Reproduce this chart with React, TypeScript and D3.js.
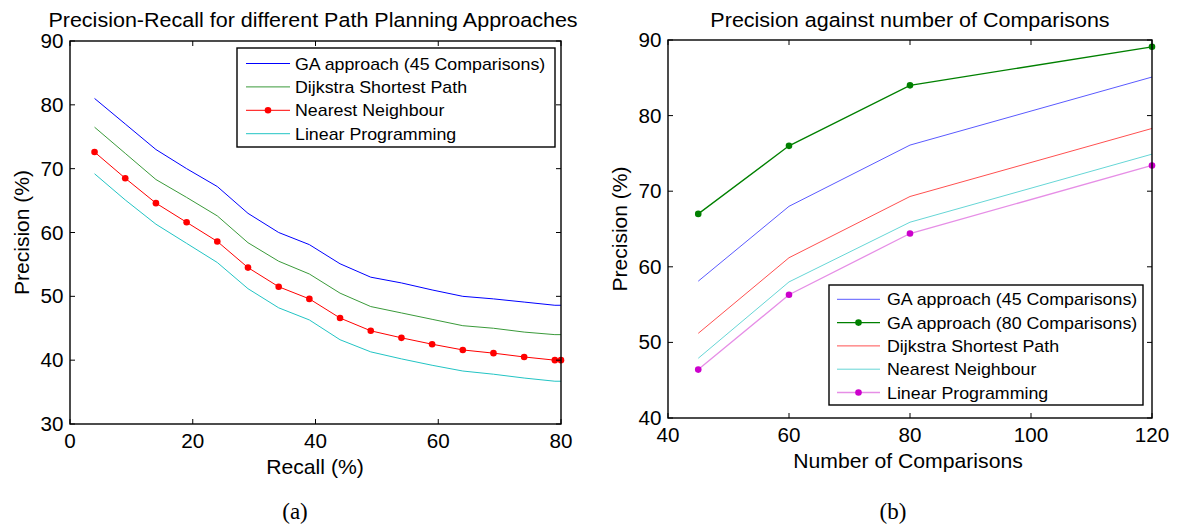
import React from 'react';
import * as d3 from 'd3';

// Panel (a): precision vs. recall
const recall = [4, 9, 14, 19, 24, 29, 34, 39, 44, 49, 54, 59, 64, 69, 74, 79, 80];
const gaPrecision = [81.0, 77.0, 73.0, 70.0, 67.2, 63.0, 60.0, 58.1, 55.1, 53.0, 52.1, 51.0, 50.0, 49.6, 49.1, 48.6, 48.6];
const dijkstraPrecision = [76.5, 72.4, 68.3, 65.5, 62.6, 58.4, 55.5, 53.5, 50.5, 48.4, 47.4, 46.4, 45.4, 45.0, 44.4, 44.0, 44.0];
const nearestPrecision = [72.6, 68.5, 64.6, 61.6, 58.6, 54.5, 51.5, 49.6, 46.6, 44.6, 43.5, 42.5, 41.6, 41.1, 40.5, 40.0, 40.0];
const linearPrecision = [69.2, 65.1, 61.3, 58.3, 55.3, 51.2, 48.2, 46.3, 43.2, 41.3, 40.2, 39.2, 38.3, 37.8, 37.2, 36.7, 36.7];
const recallTicks = [0, 20, 40, 60, 80];
const recallPrecisionTicks = [30, 40, 50, 60, 70, 80, 90];

// Panel (b): precision vs. number of comparisons
const comparisons = [45, 60, 80, 120];
const ga45Precision = [58.1, 68.0, 76.1, 85.1];
const ga80Precision = [67.0, 76.0, 84.0, 89.1];
const dijkstraByComparisons = [51.2, 61.2, 69.3, 78.3];
const nearestByComparisons = [47.9, 58.0, 65.9, 74.9];
const linearByComparisons = [46.4, 56.3, 64.4, 73.4];
const comparisonTicks = [40, 60, 80, 100, 120];
const comparisonPrecisionTicks = [40, 50, 60, 70, 80, 90];

const FONT = "'Liberation Sans', Arial, sans-serif";
const SERIF = "'Liberation Serif', 'Times New Roman', serif";
const STRETCH = 1.06; // glyphs are drawn slightly wide

type Series = {
  name: string;
  x: number[];
  y: number[];
  color: string;
  width?: number;
  marker?: string;
};

type LabelProps = {
  x: number;
  y: number;
  size: number;
  anchor?: 'start' | 'middle' | 'end';
  dy?: string;
  children: React.ReactNode;
};

function Label({ x, y, size, anchor = 'start', dy, children }: LabelProps) {
  return (
    <text
      transform={`translate(${x},${y}) scale(${STRETCH},1)`}
      textAnchor={anchor}
      dy={dy}
      fontFamily={FONT}
      fontSize={size}
      fill="#000"
    >
      {children}
    </text>
  );
}

type PanelProps = {
  box: { left: number; top: number; right: number; bottom: number };
  xDomain: [number, number];
  yDomain: [number, number];
  xTicks: number[];
  yTicks: number[];
  series: Series[];
  legend: { left: number; top: number; right: number; bottom: number; firstRow: number; step: number; lineX0: number; lineX1: number; textX: number };
  title: string;
  titleX: number;
  xLabel: string;
  xLabelX: number;
  yLabelX: number;
  caption: string;
  captionX: number;
};

function Panel(p: PanelProps) {
  const x = d3.scaleLinear().domain(p.xDomain).range([p.box.left, p.box.right]);
  const y = d3.scaleLinear().domain(p.yDomain).range([p.box.bottom, p.box.top]);
  const line = d3
    .line<[number, number]>()
    .x((d) => x(d[0]))
    .y((d) => y(d[1]));
  const tickLen = 5;
  const yMid = (p.box.top + p.box.bottom) / 2;

  return (
    <g>
      <Label x={p.titleX} y={27} size={20.3} anchor="middle">
        {p.title}
      </Label>

      {/* series */}
      {p.series.map((s) => {
        const pts = s.x.map((v, i) => [v, s.y[i]] as [number, number]);
        return (
          <g key={s.name}>
            <path d={line(pts) || ''} fill="none" stroke={s.color} strokeWidth={s.width ?? 1} />
            {s.marker &&
              pts.map((d, i) => (
                <circle key={i} cx={x(d[0])} cy={y(d[1])} r={3.3} fill={s.marker} />
              ))}
          </g>
        );
      })}

      {/* axes box */}
      <rect
        x={p.box.left}
        y={p.box.top}
        width={p.box.right - p.box.left}
        height={p.box.bottom - p.box.top}
        fill="none"
        stroke="#000"
        strokeWidth={1.4}
      />
      {p.xTicks.map((t) => (
        <g key={'xt' + t}>
          <line x1={x(t)} x2={x(t)} y1={p.box.bottom} y2={p.box.bottom - tickLen} stroke="#000" strokeWidth={1} />
          <line x1={x(t)} x2={x(t)} y1={p.box.top} y2={p.box.top + tickLen} stroke="#000" strokeWidth={1} />
          <Label x={x(t)} y={p.box.bottom + 24} size={19.5} anchor="middle">
            {t}
          </Label>
        </g>
      ))}
      {p.yTicks.map((t) => (
        <g key={'yt' + t}>
          <line x1={p.box.left} x2={p.box.left + tickLen} y1={y(t)} y2={y(t)} stroke="#000" strokeWidth={1} />
          <line x1={p.box.right} x2={p.box.right - tickLen} y1={y(t)} y2={y(t)} stroke="#000" strokeWidth={1} />
          <Label x={p.box.left - 6.5} y={y(t)} dy="0.36em" size={19.5} anchor="end">
            {t}
          </Label>
        </g>
      ))}

      <Label x={p.xLabelX} y={p.box.bottom + 50} size={20} anchor="middle">
        {p.xLabel}
      </Label>
      <text
        transform={`translate(${p.yLabelX},${yMid}) rotate(-90)`}
        textAnchor="middle"
        fontFamily={FONT}
        fontSize={21}
        fill="#000"
      >
        Precision (%)
      </text>
      <text x={p.captionX} y={519} textAnchor="middle" fontFamily={SERIF} fontSize={23} fill="#000">
        {p.caption}
      </text>

      {/* legend */}
      <rect
        x={p.legend.left}
        y={p.legend.top}
        width={p.legend.right - p.legend.left}
        height={p.legend.bottom - p.legend.top}
        fill="#fff"
        stroke="#000"
        strokeWidth={1.4}
      />
      {p.series.map((s, i) => {
        const cy = p.legend.firstRow + i * p.legend.step;
        return (
          <g key={'lg' + s.name}>
            <line x1={p.legend.lineX0} x2={p.legend.lineX1} y1={cy} y2={cy} stroke={s.color} strokeWidth={s.width ?? 1} />
            {s.marker && <circle cx={(p.legend.lineX0 + p.legend.lineX1) / 2} cy={cy} r={3.3} fill={s.marker} />}
            <Label x={p.legend.textX} y={cy} dy="0.36em" size={16.8}>
              {s.name}
            </Label>
          </g>
        );
      })}
    </g>
  );
}

export default function App() {
  const left: Series[] = [
    { name: 'GA approach (45 Comparisons)', x: recall, y: gaPrecision, color: '#0000ff' },
    { name: 'Dijkstra Shortest Path', x: recall, y: dijkstraPrecision, color: '#3a9a3a' },
    { name: 'Nearest Neighbour', x: recall, y: nearestPrecision, color: '#ff0000', marker: '#ff0000' },
    { name: 'Linear Programming', x: recall, y: linearPrecision, color: '#22c4c4' },
  ];
  const right: Series[] = [
    { name: 'GA approach (45 Comparisons)', x: comparisons, y: ga45Precision, color: '#5a5aff' },
    { name: 'GA approach (80 Comparisons)', x: comparisons, y: ga80Precision, color: '#008000', width: 1.3, marker: '#008000' },
    { name: 'Dijkstra Shortest Path', x: comparisons, y: dijkstraByComparisons, color: '#ff5050' },
    { name: 'Nearest Neighbour', x: comparisons, y: nearestByComparisons, color: '#66d6d6' },
    { name: 'Linear Programming', x: comparisons, y: linearByComparisons, color: '#e68ee6', width: 1.3, marker: '#cc00cc' },
  ];

  return (
    <svg
      width={1177}
      height={527}
      viewBox="0 0 1177 527"
      style={{ position: 'absolute', left: 0, top: 0, background: '#fff' }}
    >
      <rect width={1177} height={527} fill="#fff" />
      <Panel
        box={{ left: 70, top: 41, right: 561, bottom: 424 }}
        xDomain={[0, 80]}
        yDomain={[30, 90]}
        xTicks={recallTicks}
        yTicks={recallPrecisionTicks}
        series={left}
        legend={{ left: 237, top: 48, right: 555, bottom: 147, firstRow: 63.5, step: 23.4, lineX0: 246, lineX1: 290, textX: 295 }}
        title="Precision-Recall for different Path Planning Approaches"
        titleX={313}
        xLabel="Recall (%)"
        xLabelX={315}
        yLabelX={29}
        caption="(a)"
        captionX={295}
      />
      <Panel
        box={{ left: 668, top: 40, right: 1152, bottom: 418 }}
        xDomain={[40, 120]}
        yDomain={[40, 90]}
        xTicks={comparisonTicks}
        yTicks={comparisonPrecisionTicks}
        series={right}
        legend={{ left: 829, top: 285, right: 1143, bottom: 405, firstRow: 299.3, step: 23.3, lineX0: 837, lineX1: 880, textX: 887 }}
        title="Precision against number of Comparisons"
        titleX={910}
        xLabel="Number of Comparisons"
        xLabelX={908}
        yLabelX={627}
        caption="(b)"
        captionX={893}
      />
    </svg>
  );
}
